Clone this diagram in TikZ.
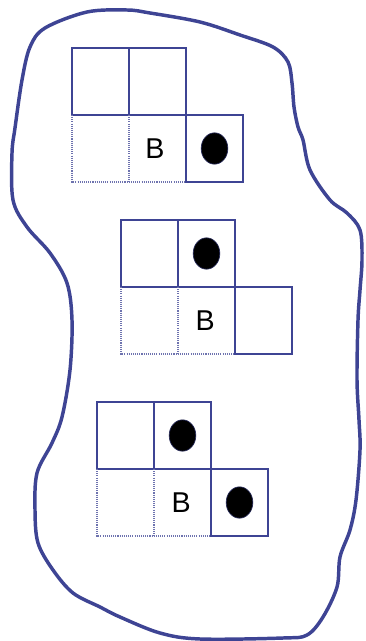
\documentclass[tikz,border=0pt]{standalone}
\usepackage{fontspec}
\setmainfont{Liberation Sans}
\usetikzlibrary{shapes.geometric}
\definecolor{ink}{RGB}{62,68,148}
\tikzset{
  blob/.style={draw=ink, line width=2.6pt, line join=round},
  cellline/.style={draw=ink, line width=1.2pt},
  dotline/.style={draw=ink!75, line width=0.9pt, dash pattern=on 0.8pt off 0.8pt},
  bead/.style={ellipse, fill=black, draw=ink!60!black, line width=0.5pt, inner sep=0pt, minimum width=20pt, minimum height=23.5pt},
  letter/.style={font=\fontsize{21.5}{21.5}\selectfont, inner sep=0pt, text=black}
}
\newcommand{\tgrid}[3]{%
  \begin{scope}[shift={(#1,#2)}]
    \draw[cellline] (0,0) rectangle (114,67) (57,0) -- (57,67) (114,67) rectangle (171,134);
    \draw[dotline] (0,67) -- (0,134) -- (114,134) (57,67) -- (57,134);
    \coordinate (#3-tl) at (28.5,33.5);
    \coordinate (#3-tm) at (85.5,33.5);
    \coordinate (#3-bl) at (28.5,100.5);
    \coordinate (#3-bm) at (85.5,100.5);
    \coordinate (#3-br) at (142.5,100.5);
  \end{scope}}
\begin{document}
\begin{tikzpicture}[x=0.75pt, y=-0.75pt]
\useasboundingbox (0,0) rectangle (365,641);
\draw[blob] plot[smooth cycle, tension=0.55] coordinates {
 (45,28) (87,12) (127,10) (150,13) (200,22) (240,35) (273,47) (288,62) (292,83)
 (294,107) (298,127) (303,140) (310,170) (330,200) (347,213) (360,230) (362,260)
 (360,290) (358,320) (357,380) (359,420) (360,450) (356,500) (350,530) (340,557)
 (337,587) (323,617) (307,635) (283,638) (200,639) (160,633) (120,617) (100,607)
 (73,593) (53,570) (38,543) (35,510) (37,473) (52,443) (62,417) (70,370) (72,320)
 (67,283) (50,253) (27,227) (13,200) (12,153) (15,128) (22,80) (30,47)};
\tgrid{72}{48}{g1}
\tgrid{121}{220}{g2}
\tgrid{97}{402}{g3}
\node[letter] (b1) at ([xshift=-2pt]g1-bm) {B};
\node[bead] (d1) at (g1-br) {};
\node[letter] (b2) at ([xshift=-1pt]g2-bm) {B};
\node[bead] (d2) at (g2-tm) {};
\node[letter] (b3) at ([xshift=-1pt]g3-bm) {B};
\node[bead] (d3) at (g3-tm) {};
\node[bead] (d4) at (g3-br) {};
\end{tikzpicture}
\end{document}
